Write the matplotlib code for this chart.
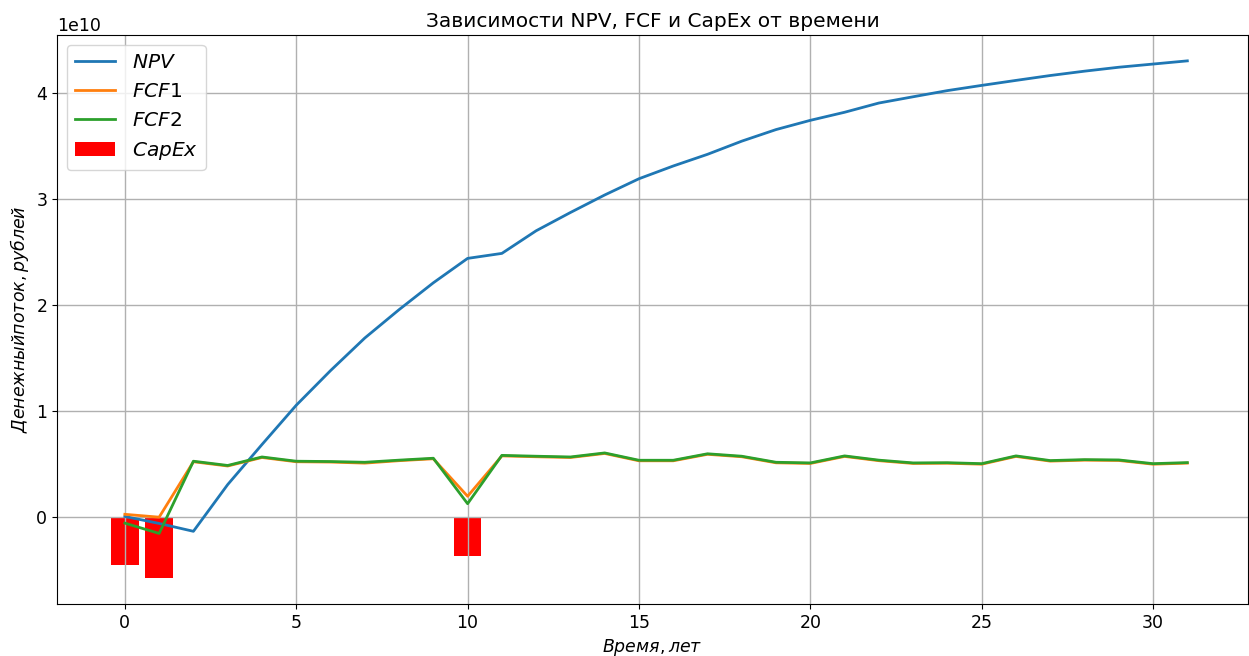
import matplotlib
matplotlib.use("Agg")
import matplotlib.pyplot as plt
import numpy as np

years = list(range(32))
npv = [0.01, -0.056, -0.13, 0.31, 0.687, 1.057, 1.383, 1.69, 1.957, 2.21,
       2.44, 2.487, 2.70, 2.872, 3.037, 3.19, 3.31, 3.42, 3.544, 3.653,
       3.74, 3.816, 3.903, 3.962, 4.02, 4.069, 4.116, 4.162, 4.203, 4.24,
       4.27, 4.30]
fcf2 = [-0.053, -0.15, 0.53, 0.49, 0.57, 0.53, 0.527, 0.52, 0.54, 0.558,
        0.13, 0.585, 0.577, 0.57, 0.608, 0.539, 0.539, 0.60, 0.577, 0.52,
        0.514, 0.58, 0.54, 0.514, 0.516, 0.507, 0.58, 0.536, 0.545, 0.542,
        0.507, 0.517]
fcf1 = [0.03, 0.003, 0.525, 0.485, 0.565, 0.525, 0.522, 0.512, 0.535, 0.553,
        0.20, 0.58, 0.572, 0.565, 0.603, 0.534, 0.534, 0.595, 0.572, 0.515,
        0.509, 0.575, 0.535, 0.509, 0.511, 0.502, 0.575, 0.531, 0.54, 0.537,
        0.502, 0.512]
capex_years = [0, 1, 10]
capex = [-0.449, -0.571, -0.364]

scale = 1e10
npv_v = np.array(npv) * scale
fcf1_v = np.array(fcf1) * scale
fcf2_v = np.array(fcf2) * scale
capex_v = np.array(capex) * scale

fig = plt.figure(figsize=(12.49, 6.56), dpi=100)
ax = fig.add_axes([57/1249, (656-604)/656, (1248-57)/1249, (604-35)/656])

ax.plot(years, npv_v, label='$NPV$', lw=2)
ax.plot(years, fcf1_v, label='$FCF1$', lw=2)
ax.plot(years, fcf2_v, label='$FCF2$', lw=2)
ax.bar(capex_years, capex_v, width=0.8, color='red', label='$CapEx$')

ax.set_xlim(-1.98, 32.77)
ax.grid(True, lw=1)
ax.set_title('Зависимости NPV, FCF и CapEx от времени', fontsize=14.5)
ax.set_xlabel('$Время, лет$', fontsize=12.5)
ax.set_ylabel('$Денежный поток, рублей$', fontsize=12.5)
ax.tick_params(labelsize=12.5)
ax.yaxis.get_offset_text().set_fontsize(12.5)
ax.legend(loc='upper left', fontsize=14.5)

fig.savefig('out.png', dpi=100)
